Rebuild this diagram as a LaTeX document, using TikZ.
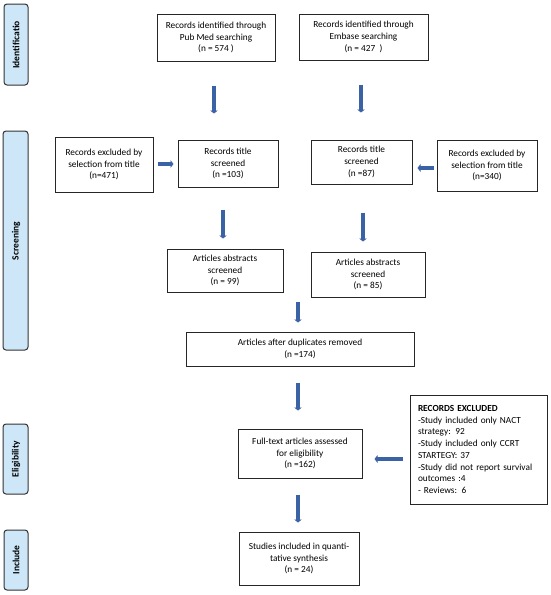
\documentclass[tikz,border=0pt]{standalone}
\usepackage{fontspec}
\setmainfont{Carlito}
\usetikzlibrary{arrows.meta}
\definecolor{arrblue}{HTML}{3C62A6}
\definecolor{labfill}{HTML}{CDE7F8}
\begin{document}
\begin{tikzpicture}[x=1pt,y=-1pt,
  box/.style={draw=black!85, line width=1pt, align=center, inner sep=0pt,
    font=\fontsize{9.3}{11.7}\selectfont},
  sidelab/.style={draw=black!80, line width=1pt, fill=labfill, rounded corners=3pt,
    inner sep=0pt},
  sidetxt/.style={rotate=90, font=\fontsize{9.5}{11}\selectfont\bfseries},
  arr/.style={draw=arrblue, line width=3.6pt, -{Triangle[length=3pt,width=7.5pt]}}]
\useasboundingbox (0,0) rectangle (550,595);
% side labels
\node[sidelab, minimum width=24, minimum height=81] (idlab) at (16,44.5) {};
\node[sidetxt] (idtxt) at (16,45) {Identificatio};
\node[sidelab, minimum width=25, minimum height=219] (scrlab) at (15.5,240.5) {};
\node[sidetxt] (scrtxt) at (16,241) {Screening};
\node[sidelab, minimum width=25, minimum height=70] (elilab) at (15.5,459) {};
\node[sidetxt] (elitxt) at (16,459) {Eligibility};
\node[sidelab, minimum width=24, minimum height=60] (inclab) at (16,560) {};
\node[sidetxt] (inctxt) at (16,560) {Include};
% boxes
\node[box, minimum width=118, minimum height=47] (pubmed) at (216,37.5) {Records identified through\\Pub Med searching\\(n = 574 )};
\node[box, minimum width=129, minimum height=46] (embase) at (363.5,37) {Records identified through\\Embase searching\\(n = 427~~)};
\node[box, minimum width=98, minimum height=55] (exl) at (104,164.5) {Records excluded by\\selection from title\\(n=471)};
\node[box, minimum width=100, minimum height=47] (t103) at (228,163.5) {Records title\\screened\\(n =103)};
\node[box, minimum width=101, minimum height=44] (t87) at (361.5,162) {Records title\\screened\\(n =87)};
\node[box, minimum width=100, minimum height=51] (exr) at (487,165.5) {Records excluded by\\selection from title\\(n=340)};
\node[box, minimum width=116, minimum height=43] (a99) at (225,270.5) {Articles abstracts\\screened\\(n = 99)};
\node[box, minimum width=114, minimum height=45] (a85) at (368,274.5) {Articles abstracts\\screened\\(n = 85)};
\node[box, minimum width=228, minimum height=34] (dup) at (300,349) {Articles after duplicates removed\\(n =174)};
\node[box, minimum width=124, minimum height=49] (full) at (300,453.5) {Full-text articles assessed\\for eligibility\\(n =162)};
\node[box, minimum width=137, minimum height=109, text width=121, align=left, inner xsep=8pt] (recx) at (478.5,449.5) {\textbf{RECORDS EXCLUDED}\\-Study included only NACT strategy: 92\\-Study included only CCRT STARTEGY: 37\\-Study did not report survival outcomes :4\\- Reviews: 6};
\node[box, minimum width=120, minimum height=53] (stud) at (299,558.5) {Studies included in quanti-\\tative synthesis\\(n = 24)};
% arrows
\draw[arr] ([shift={(-2,24)}]pubmed.south) -- ++(0,28);
\draw[arr] ([shift={(-2.5,24)}]embase.south) -- ++(0,28);
\draw[arr] ([shift={(4,-0.5)}]exl.east) -- ++(16,0);
\draw[arr] ([shift={(-3,2.5)}]exr.west) -- ++(-16,0);
\draw[arr] ([shift={(-5,22)}]t103.south) -- ++(0,29);
\draw[arr] ([shift={(1.5,28)}]t87.south) -- ++(0,29);
\draw[arr] ([shift={(-2,-30)}]dup.north) -- ++(0,21);
\draw[arr] ([shift={(-2,16)}]dup.south) -- ++(0,28);
\draw[arr] ([shift={(-7,9.5)}]recx.west) -- ++(-28,0);
\draw[arr] ([shift={(-2,16)}]full.south) -- ++(0,28);
\end{tikzpicture}
\end{document}
